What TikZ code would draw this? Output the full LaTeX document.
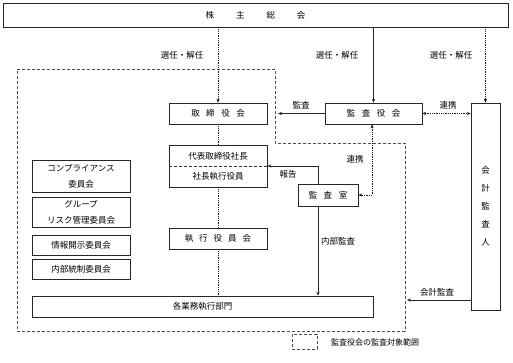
\documentclass[tikz,border=0pt]{standalone}
\usepackage{fontspec}
\setmainfont{Noto Sans CJK JP}
\usetikzlibrary{arrows.meta}
\begin{document}
\begin{tikzpicture}[x=1pt,y=-1pt,
  every node/.style={font=\fontsize{8.5}{10}\selectfont, inner sep=0pt},
  box/.style={draw=black!85, line width=0.6pt, align=center},
  tip/.style={-{Stealth[length=4pt,width=3.2pt]}},
  dtip/.style={{Stealth[length=4pt,width=3.2pt]}-{Stealth[length=4pt,width=3.2pt]}},
  dotl/.style={densely dotted, line width=0.8pt, black!90},
  conn/.style={line width=0.6pt, black!85},
  region/.style={dash pattern=on 3pt off 2pt, line width=0.6pt, black!70}]
\useasboundingbox (0,0) rectangle (513,362);
\fill[white] (0,0) rectangle (513,362);
% dashed audit region
\draw[region] (17,69) -- (275,69) -- (275,143) -- (405,143) -- (405,331) -- (17,331) -- cycle;
% boxes
\node[box, minimum width=505pt, minimum height=24pt] (gm) at (255.5,15) {株\hspace{22pt}主\hspace{22pt}総\hspace{22pt}会};
\node[box, minimum width=98pt, minimum height=21pt] (bod) at (218,113.5) {取\hspace{6.5pt}締\hspace{6.5pt}役\hspace{6.5pt}会};
\node[box, minimum width=98pt, minimum height=42pt, font=\fontsize{8.5}{20}\selectfont] (pres) at (218,166) {代表取締役社長\\社長執行役員};
\node[box, minimum width=98pt, minimum height=21pt] (exec) at (218,238.5) {執\hspace{6pt}行\hspace{6pt}役\hspace{6pt}員\hspace{6pt}会};
\node[box, minimum width=341pt, minimum height=21pt] (dept) at (202.5,306.5) {各業務執行部門};
\node[box, minimum width=97pt, minimum height=21pt] (ksy) at (373.5,113.5) {監\hspace{6.5pt}査\hspace{6.5pt}役\hspace{6.5pt}会};
\node[box, minimum width=29pt, minimum height=207pt, font=\fontsize{8.5}{18}\selectfont] (kai) at (485.5,206.5) {会\\計\\監\\査\\人};
\node[box, minimum width=60pt, minimum height=22pt] (shitsu) at (328,195) {監\hspace{6.5pt}査\hspace{6.5pt}室};
\node[box, minimum width=98pt, minimum height=32pt, font=\fontsize{8.5}{16}\selectfont] (c1) at (81,176) {コンプライアンス\\委員会};
\node[box, minimum width=98pt, minimum height=30pt, font=\fontsize{8.5}{16}\selectfont] (c2) at (81,212) {グループ\\リスク管理委員会};
\node[box, minimum width=98pt, minimum height=20pt] (c3) at (81,245) {情報開示委員会};
\node[box, minimum width=98pt, minimum height=20pt] (c4) at (81,269) {内部統制委員会};
% divider inside president box
\draw[densely dashed, line width=0.5pt, black!80] (pres.west) -- (pres.east);
% free ends
\coordinate (kansaEnd) at (278,113.5);
\coordinate (kaikeiEnd) at (407,300);
% connectors from shareholders meeting
\draw[dotl, tip] (gm.south -| bod) -- (bod.north);
\draw[conn, tip] (gm.south -| ksy) -- (ksy.north);
\draw[dotl, tip] (gm.south -| kai) -- (kai.north);
\node (s1) at (182,55) {選任・解任};
\node (s2) at (337,55) {選任・解任};
\node (s3) at (451,55) {選任・解任};
% audit board relations
\draw[conn, tip] (ksy.west) -- (kansaEnd);
\node (lk) at (301,105) {監査};
\draw[dotl, dtip] (ksy.east) -- (kai.west |- ksy.east);
\node (lr1) at (448,105) {連携};
% executive chain
\draw[dotl] (bod.south) -- (pres.north);
\draw[dotl] (pres.south) -- (exec.north);
\draw[dotl] (exec.south) -- (exec.south |- dept.north);
% internal audit office
\draw[conn, tip] ([xshift=-10pt]shitsu.north) |- (pres.east);
\node (lh) at (288,174) {報告};
\draw[dotl, dtip] ([xshift=-1.5pt]ksy.south) |- (shitsu.east);
\node (lr2) at (355,159) {連携};
\draw[conn, tip] ([xshift=-10pt]shitsu.south) -- ([xshift=-10pt]shitsu.south |- dept.north);
\node[anchor=west] (lna) at (321,241) {内部監査};
\draw[conn, tip] (kai.west |- kaikeiEnd) -- (kaikeiEnd);
\node (lkk) at (437,292) {会計監査};
% legend
\node[draw, region, minimum width=25pt, minimum height=15pt] (leg) at (304.5,341.5) {};
\node[anchor=west, font=\fontsize{8}{10}\selectfont] (legt) at (331,342) {監査役会の監査対象範囲};
\end{tikzpicture}
\end{document}
